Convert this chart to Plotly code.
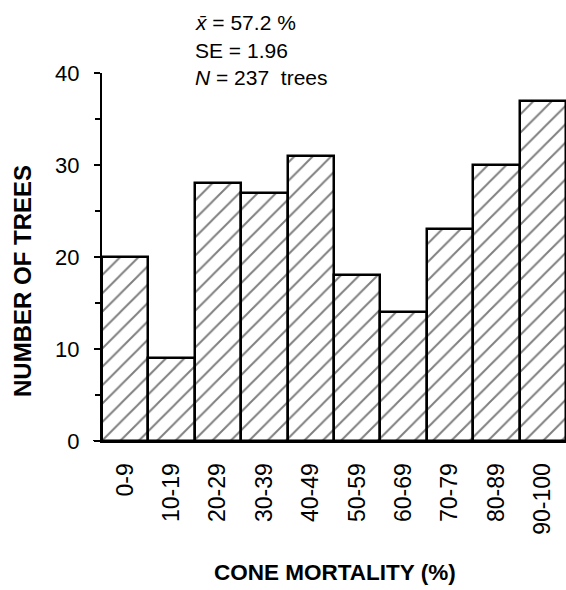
import plotly.graph_objects as go

categories = ["0-9", "10-19", "20-29", "30-39", "40-49", "50-59", "60-69", "70-79", "80-89", "90-100"]
counts = [20, 9, 28, 27, 31, 18, 14, 23, 30, 37]
y_ticks = [0, 10, 20, 30, 40]
stats_lines = ["<i>x̄</i> = 57.2 %", "SE = 1.96", "<i>N</i> = 237  trees"]

FONT = "Liberation Sans, Arial, Helvetica, sans-serif"

fig = go.Figure()
fig.add_trace(go.Bar(
    x=categories, y=counts,
    marker=dict(
        color="white",
        line=dict(color="black", width=2.5),
        pattern=dict(shape="/", fgcolor="black", bgcolor="white", size=13, solidity=0.15),
    ),
    width=1.0,
))

fig.update_layout(
    width=566, height=590,
    margin=dict(l=102, r=0, t=73, b=149),
    paper_bgcolor="white", plot_bgcolor="white",
    showlegend=False, bargap=0,
    font=dict(family=FONT, color="black", size=21),
)
fig.update_xaxes(
    type="category", range=[-0.5, 9.5],
    showline=True, linecolor="black", linewidth=2,
    ticks="", tickangle=-90, ticklabelstandoff=11,
    tickfont=dict(size=23), showgrid=False, zeroline=False,
)
fig.update_yaxes(
    range=[0, 40], tickvals=y_ticks,
    showline=True, linecolor="black", linewidth=2,
    ticks="outside", ticklen=6, tickwidth=2, tickcolor="black",
    minor=dict(dtick=5, ticks="outside", ticklen=5, tickwidth=2, tickcolor="black"),
    ticklabelstandoff=10, tickfont=dict(size=22),
    showgrid=False, zeroline=False,
)

# small extension of the baseline to the left of the y axis
fig.add_shape(type="line", xref="paper", yref="y", x0=-9 / 464, x1=0, y0=0, y1=0,
              line=dict(color="black", width=2))

for i, line in enumerate(stats_lines):
    fig.add_annotation(
        text=line, xref="paper", yref="paper",
        x=(193 - 102) / 464, y=1 + (73 - (23 + 27 * i)) / 368,
        xanchor="left", yanchor="middle", showarrow=False,
        font=dict(size=21, family=FONT),
    )

fig.add_annotation(
    text="<b>NUMBER OF TREES</b>", textangle=-90,
    xref="paper", yref="paper", x=-(102 - 22) / 464, y=(441 - 281) / 368,
    xanchor="center", yanchor="middle", showarrow=False,
    font=dict(size=24, family=FONT),
)
fig.add_annotation(
    text="<b>CONE MORTALITY (%)</b>",
    xref="paper", yref="paper", x=(335 - 102) / 464, y=-(572 - 441) / 368,
    xanchor="center", yanchor="middle", showarrow=False,
    font=dict(size=22.5, family=FONT),
)

fig.write_html("out.html")
